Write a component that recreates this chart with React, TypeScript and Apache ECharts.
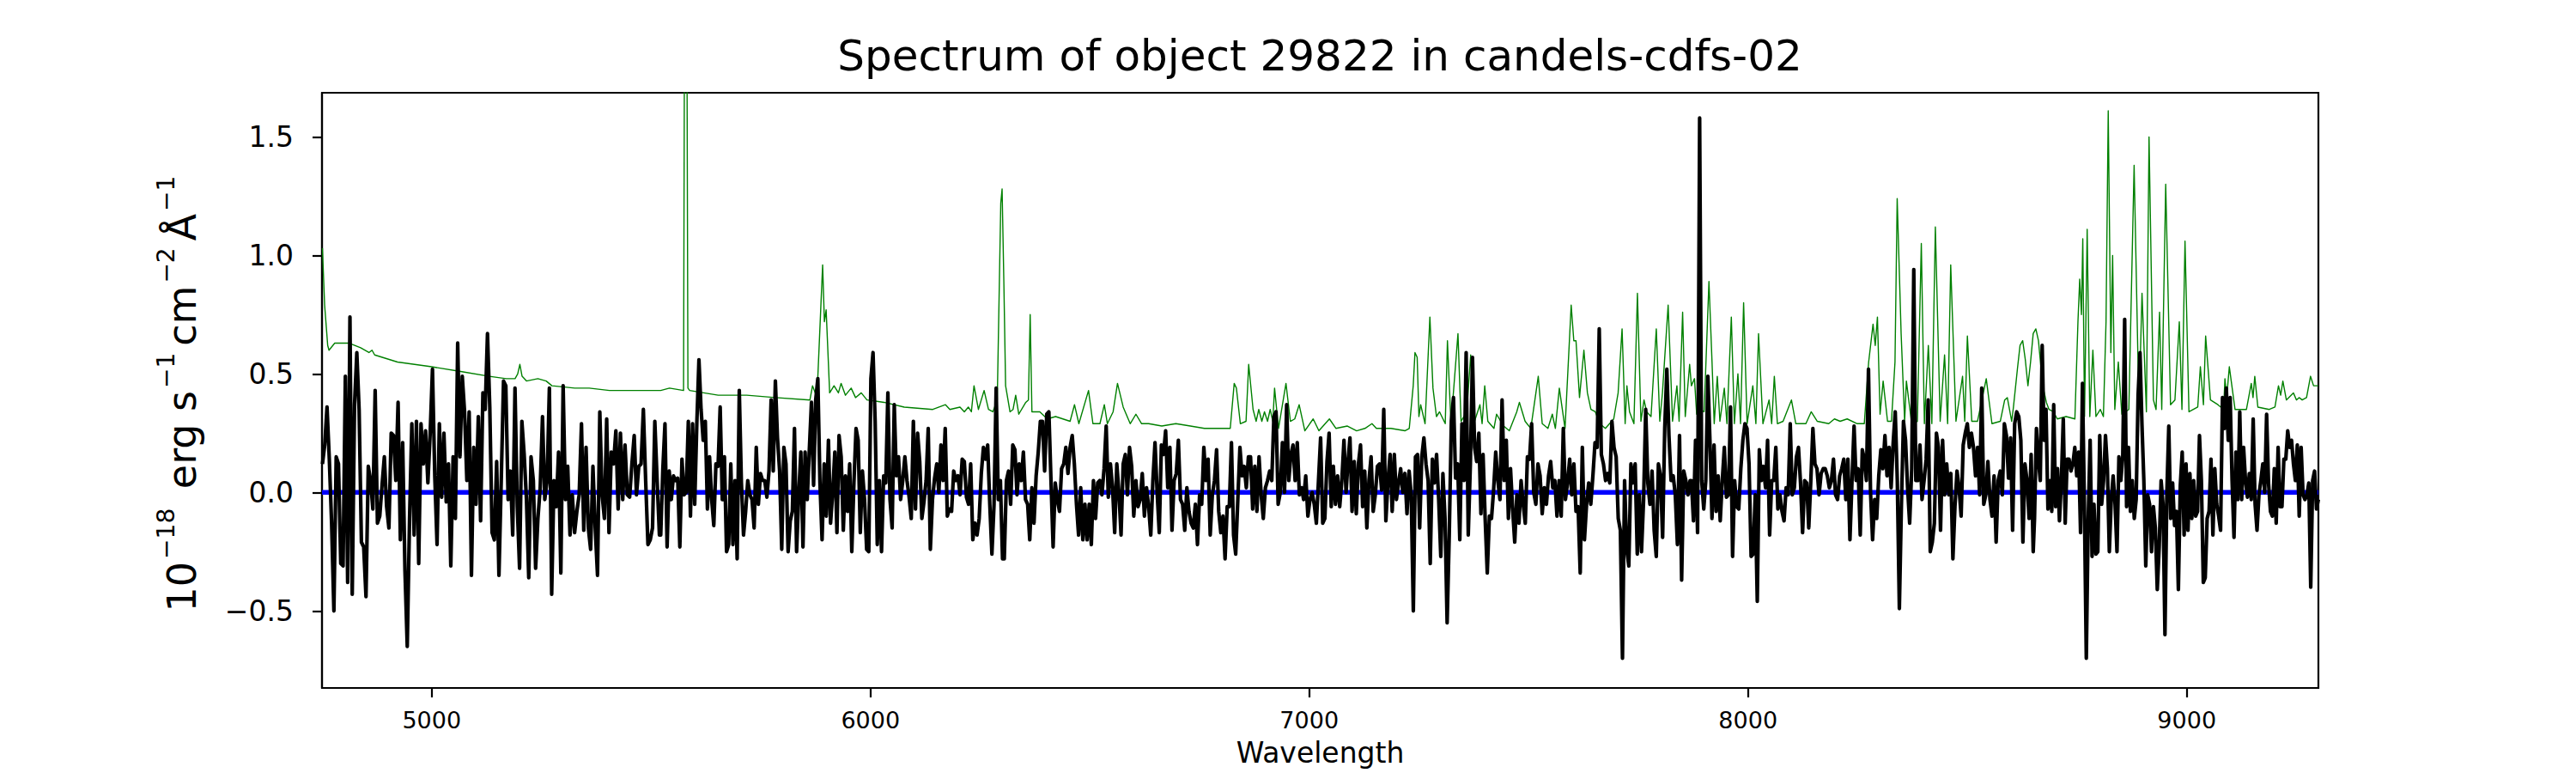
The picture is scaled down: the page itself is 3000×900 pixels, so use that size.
import React, { useEffect, useRef } from "react";
import * as echarts from "echarts";

// ---------- data ----------
const titleText = "Spectrum of object 29822 in candels-cdfs-02";
const xTicks = [5000, 6000, 7000, 8000, 9000];
const yTicks = [-0.5, 0, 0.5, 1.0, 1.5];
const xMin = 4750;
const xMax = 9300;
const yMin = -0.825;
const yMax = 1.686;

// observed flux, read in six wavelength pieces (evenly spaced pixels inside each)
const fluxPieceStart = [4751, 5522, 6305, 7088, 7871, 8653];
const fluxPieceEnd = [5519, 6301, 7084, 7868, 8650, 9300];

const fluxA = [.12, .20, .36, .14, -.13, -.50, .15, .12, -.30, -.31, .49, -.38, .74, -.43, .37, .59, .35, -.21, -.23, -.44, .11, .05, -.07, .43, -.13, -.10, .03, .15, -.06, -.15, .25, .24, .05, .38, -.20, .21, -.33, -.65, -.11, .29, -.18, .30, -.30, .29, .12, .26, .04, .25, .52, .07, -.22, .29, -.02, .25, -.04, .12, -.31, .15, -.11, .63, .15, .49, .34, .05, .34, -.35, .19, -.05, .32, -.12, .42, .35, .67, .36, -.17, -.20, .13, -.35, .05, .47, .45, -.03, .09, -.18, .44, -.06, -.32, .30, .16, -.03, -.36, .15, .05, -.32, -.11, .02, .32, -.03, .05, .44, -.43, .05, -.06, .17, -.34, .45, -.03, .11, -.18, -.01, -.17, -.08, -.01, .29, -.16, .19, -.15, -.24, .11, -.15, -.35, .34, -.01, -.11, .31, -.17, .17, .12, .26, -.07, .25, -.03, .20, -.01, -.02, .12, .24, -.01, .11, .12, .35, .05, -.22, -.20, -.15, .30, .05, -.18];

const fluxB = [-.18, .10, .29, -.23, .09, -.03, .07, .05, .06, -.23, .14, -.01, .00, .30, -.10, .29, -.05, .29, .56, .35, .22, .30, -.07, .15, -.03, -.14, .12, .11, .36, -.03, .15, -.25, -.22, .12, -.22, .05, -.28, .43, .04, -.18, -.08, .05, -.01, -.03, -.15, .19, -.05, .08, .05, .05, -.02, .09, .39, .09, .47, .23, .09, -.24, .19, .12, -.25, -.12, -.08, .27, -.25, -.01, .17, -.23, .17, -.03, .18, .38, .03, .39, .48, .04, -.20, .12, -.10, .22, -.13, .00, .17, -.17, .24, .15, -.16, .07, -.08, .12, -.25, .04, .27, .22, -.17, .09, -.03, -.24, -.25, .48, .59, .30, -.22, .05, -.25, .07, .04, .42, -.03, -.15, .37, .07, .15, -.03, .05, .15, .05, -.02, -.11, .30, -.07, .25, .13, -.11, -.04, .05, .27, -.24, -.03, .06, .12, .00, .20, .05, .27, -.10, -.07, -.08, .09, .05, .07, -.01, .14, .13, -.02, -.05, .12, -.20, -.13, -.18, -.11, .08, .19, .14, .20, -.05, -.26, -.05, .44, -.03, .05, -.28];

const fluxC = [-.28, .05, .09, -.05, .20, .18, -.01, .12, .05, .17, -.03, -.05, -.20, .02, -.13, .07, .17, .30, .30, .09, .33, .34, .05, -.23, .04, -.03, -.08, .10, .12, .19, .08, .19, .24, .12, -.05, -.18, .02, -.20, -.05, -.20, -.05, -.22, .05, -.11, .04, .05, -.01, .10, .28, -.02, .12, .02, -.17, .12, .00, -.18, .12, .16, -.01, .19, .11, -.10, .05, -.06, -.03, .08, -.10, .02, -.06, -.18, .05, .21, .00, -.17, .20, .16, .26, .02, .19, -.16, .05, .08, .22, -.03, -.05, -.16, .02, -.08, -.13, -.15, -.05, -.22, -.01, -.05, .19, .05, .14, -.18, -.01, .05, .18, -.08, -.17, -.10, -.28, -.06, -.06, .21, -.18, -.26, -.03, .19, .07, .11, .02, .15, .15, -.07, .11, -.08, .15, -.01, -.11, .02, .05, .09, .05, .32, .34, -.05, .00, .21, .00, .37, .05, .16, .20, .05, .21, -.01, .02, -.03, .07, -.10, -.03, .00, -.05, -.13, .05, .23, -.13, -.11, .13, .25, -.06, .11, -.05, .07, -.06, .05, .22, .00];

const fluxD = [.12, .23, -.08, .13, -.09, .12, .20, -.06, .09, -.15, .05, .15, -.08, -.01, .11, .12, .01, .35, -.12, .05, .16, -.08, .16, -.03, .04, .10, .00, .08, -.09, .09, -.01, -.50, .15, .16, -.15, .15, .23, .12, .05, -.30, .14, .04, .16, -.03, -.27, .08, -.11, -.55, -.18, .30, .40, .06, .12, -.20, .29, .05, .59, -.18, .12, .57, .19, .13, .25, -.09, .16, -.11, -.34, -.10, -.11, .01, .17, .05, -.03, .39, .05, .22, -.11, .10, -.07, -.21, -.01, -.13, .05, -.05, -.13, .15, .14, .29, .00, -.05, .12, .07, -.09, .02, -.05, .07, .13, .02, .05, -.10, .05, -.10, .27, -.03, .04, .14, -.01, .12, -.08, -.06, -.34, .19, -.20, -.05, .04, -.05, .07, .21, .19, .69, .16, .12, .05, .08, .04, .30, .19, .15, -.11, -.16, -.70, .05, -.24, -.31, .12, .04, .12, -.26, -.01, -.25, -.03, .35, .04, -.05, .09, -.16, -.27, .12, .07, -.19, .27, .52, .24, .05, .07, -.01, -.22, .24, -.37, .09, .05, -.01, .05];

const fluxE = [.05, -.12, .22, -.17, 1.58, .05, -.07, .05, .49, .22, -.11, .20, -.08, .07, -.12, .05, .19, -.02, -.01, .36, -.27, .05, -.06, -.07, .10, .22, .29, .27, .12, -.27, -.26, -.01, -.46, .18, .05, .11, .02, .22, -.18, .05, .05, .19, -.07, -.01, -.08, -.12, .02, -.01, .29, -.01, .02, .15, .19, .04, -.17, .05, .04, -.15, .05, .27, .12, .10, -.01, .08, .10, .10, .07, .02, .05, .14, -.01, -.03, .07, .10, .14, -.03, .14, -.20, .05, .28, .05, .10, -.18, .18, .14, .05, .52, .00, -.20, -.03, -.11, .07, .18, .10, .24, .07, .19, .02, .21, .34, .05, -.49, -.05, .30, .22, .02, -.13, .10, .94, .05, .05, .20, -.03, .05, .14, .39, -.25, -.21, -.13, .25, .19, -.16, .22, -.01, .12, -.01, .08, -.28, -.06, .09, .02, -.10, .20, .25, .29, .19, .25, .19, .07, .19, -.01, .44, -.05, -.01, .13, -.03, -.10, .07, -.21, .05, .09, -.01, .29, .24, .06, .23, -.16, .29, .34, .32, .22, -.21, .12, .05, -.11, .16, -.25];

const fluxF = [-.11, .27, .14, .05, .62, .22, .35, -.07, .05, -.08, .37, -.06, .10, -.12, .05, .31, -.13, .14, .14, .09, .12, .19, .07, .17, -.17, .46, -.05, -.70, -.11, .22, -.27, -.05, -.26, -.25, .24, -.05, .05, .24, .10, -.25, -.03, .07, -.05, -.25, .15, .05, .15, .73, -.06, .19, -.08, .05, -.11, -.03, .41, .59, .29, .05, -.31, -.01, -.05, -.25, -.06, -.15, -.41, -.23, .05, -.05, -.60, .00, .28, -.11, .04, -.14, -.08, -.41, .03, .17, -.18, .12, -.16, .08, -.11, .05, -.10, -.08, .24, .05, -.38, -.36, -.11, -.08, .14, -.18, .10, -.05, -.10, -.16, .40, .27, .44, .22, .40, .05, -.19, .17, -.03, .34, -.03, .19, .05, -.02, .08, -.03, .31, -.05, -.16, -.01, .05, .12, .00, .33, .04, -.08, -.10, .10, -.13, .19, -.06, -.06, .14, .14, .26, .19, .22, .12, .05, .20, -.10, .19, -.01, -.03, -.01, .04, -.40, .05, .09, -.07, -.03];

// sky / noise spectrum (green)
const skyWave = [4751, 4756, 4763, 4766, 4779, 4811, 4838, 4857, 4864, 4870, 4922, 4961, 5000, 5066, 5131, 5170, 5190, 5196, 5201, 5206, 5216, 5242, 5261, 5274, 5326, 5359, 5405, 5457, 5522, 5542, 5574, 5577, 5581, 5584, 5588, 5620, 5653, 5718, 5783, 5862, 5868, 5878, 5891, 5895, 5899, 5907, 5917, 5927, 5933, 5943, 5956, 5966, 5979, 5992, 6031, 6077, 6142, 6171, 6181, 6204, 6214, 6223, 6230, 6236, 6246, 6259, 6269, 6279, 6289, 6297, 6300, 6304, 6308, 6318, 6325, 6331, 6338, 6354, 6360, 6364, 6368, 6386, 6403, 6422, 6455, 6465, 6475, 6497, 6507, 6523, 6533, 6540, 6553, 6563, 6576, 6592, 6605, 6618, 6634, 6664, 6696, 6729, 6761, 6820, 6829, 6834, 6843, 6856, 6862, 6872, 6879, 6885, 6892, 6898, 6905, 6911, 6917, 6921, 6930, 6947, 6957, 6967, 6977, 6990, 7009, 7022, 7046, 7061, 7087, 7108, 7127, 7143, 7153, 7186, 7218, 7228, 7237, 7241, 7246, 7250, 7254, 7264, 7275, 7282, 7290, 7297, 7310, 7315, 7323, 7329, 7339, 7346, 7359, 7368, 7375, 7389, 7394, 7400, 7407, 7421, 7427, 7443, 7456, 7473, 7479, 7492, 7505, 7522, 7531, 7544, 7554, 7561, 7570, 7583, 7597, 7603, 7608, 7616, 7626, 7634, 7642, 7652, 7662, 7675, 7694, 7704, 7713, 7720, 7724, 7730, 7740, 7748, 7756, 7763, 7769, 7779, 7791, 7799, 7805, 7818, 7828, 7838, 7843, 7851, 7857, 7867, 7871, 7878, 7883, 7891, 7900, 7911, 7918, 7923, 7930, 7936, 7946, 7952, 7962, 7969, 7977, 7983, 7990, 7998, 8011, 8018, 8024, 8034, 8048, 8054, 8060, 8067, 8080, 8099, 8109, 8132, 8144, 8158, 8184, 8197, 8210, 8226, 8249, 8265, 8275, 8285, 8290, 8295, 8301, 8308, 8318, 8327, 8335, 8340, 8349, 8357, 8361, 8373, 8386, 8395, 8402, 8411, 8419, 8427, 8438, 8448, 8455, 8462, 8474, 8489, 8494, 8500, 8510, 8523, 8543, 8556, 8575, 8585, 8591, 8601, 8605, 8614, 8620, 8626, 8632, 8638, 8644, 8650, 8656, 8662, 8668, 8673, 8680, 8686, 8696, 8705, 8725, 8745, 8752, 8756, 8760, 8763, 8767, 8773, 8779, 8786, 8793, 8803, 8810, 8816, 8821, 8827, 8831, 8836, 8844, 8852, 8868, 8880, 8891, 8898, 8908, 8914, 8924, 8930, 8938, 8943, 8952, 8963, 8973, 8983, 8989, 8996, 9005, 9025, 9031, 9038, 9043, 9054, 9071, 9084, 9087, 9091, 9097, 9110, 9136, 9147, 9151, 9155, 9162, 9188, 9201, 9209, 9214, 9219, 9227, 9243, 9250, 9256, 9263, 9273, 9282, 9289, 9300];

const skyFlux = [1.03, .79, .62, .60, .63, .63, .61, .59, .60, .58, .55, .54, .53, .51, .49, .48, .48, .50, .54, .49, .47, .48, .47, .45, .44, .44, .43, .43, .43, .44, .43, 2.6, 2.4, .44, .43, .42, .41, .41, .40, .39, .45, .40, .96, .72, .77, .42, .45, .42, .46, .41, .44, .40, .42, .39, .38, .36, .35, .37, .35, .36, .34, .36, .34, .45, .35, .43, .35, .34, .39, 1.22, 1.28, .89, .45, .34, .35, .41, .33, .38, .39, .75, .34, .34, .31, .32, .30, .37, .29, .43, .29, .29, .37, .29, .34, .46, .36, .29, .33, .29, .29, .28, .29, .28, .27, .27, .46, .44, .29, .30, .54, .35, .30, .35, .30, .34, .30, .35, .30, .44, .27, .46, .30, .31, .37, .26, .31, .26, .31, .27, .28, .26, .27, .29, .27, .27, .26, .27, .45, .59, .57, .32, .37, .29, .74, .44, .32, .34, .29, .64, .29, .43, .67, .30, .34, .58, .29, .37, .29, .45, .30, .27, .33, .28, .26, .34, .38, .30, .27, .49, .29, .27, .33, .27, .44, .27, .79, .64, .64, .40, .60, .42, .35, .34, .29, .27, .31, .42, .69, .29, .45, .34, .29, .84, .30, .39, .34, .32, .69, .30, .42, .79, .30, .45, .30, .76, .32, .54, .45, .48, .33, .35, .34, .89, .55, .29, .49, .30, .44, .29, .74, .29, .50, .29, .80, .29, .45, .29, .67, .29, .39, .29, .49, .29, .30, .39, .29, .29, .34, .30, .29, .31, .30, .31, .29, .29, .55, .71, .62, .74, .33, .47, .30, .30, .55, 1.24, .67, .30, .47, .29, .30, 1.05, .29, .62, .29, 1.12, .30, .58, .29, .96, .30, .49, .30, .66, .30, .30, .48, .29, .30, .39, .40, .30, .36, .52, .62, .64, .56, .45, .55, .67, .69, .64, .52, .44, .38, .35, .34, .31, .32, .31, .72, .90, .75, 1.07, .32, 1.11, .32, .60, .32, .35, .32, .72, 1.61, .59, 1.00, .35, .55, .33, .35, 1.38, .35, .84, .34, 1.50, .39, .35, .76, .35, 1.30, .37, .39, .72, .35, 1.06, .34, .36, .53, .37, .66, .39, .37, .35, .48, .40, .53, .35, .35, .46, .40, .49, .36, .35, .36, .45, .41, .47, .39, .42, .39, .40, .39, .40, .49, .45, .45];

const zeroLevel = [0, 0];

// ---------- helpers ----------
const FONT = "DejaVu Sans";
const fluxPieces = [fluxA, fluxB, fluxC, fluxD, fluxE, fluxF];

function buildFlux(): number[][] {
  const out: number[][] = [];
  fluxPieces.forEach((vals, k) => {
    const s = fluxPieceStart[k];
    const e = fluxPieceEnd[k];
    const step = (e - s) / (vals.length - 1);
    vals.forEach((v, i) => out.push([s + i * step, v]));
  });
  return out;
}

const fmtY = (v: number) => v.toFixed(1).replace("-", "\u2212");

export default function App() {
  const ref = useRef<HTMLDivElement>(null);

  useEffect(() => {
    if (!ref.current) return;
    const chart = echarts.init(ref.current, undefined, { renderer: "svg" });
    const flux = buildFlux();
    const sky = skyWave.map((w, i) => [w, skyFlux[i]]);
    const zero = [[xMin, zeroLevel[0]], [xMax, zeroLevel[1]]];

    const axisCommon = {
      axisLine: { show: true, onZero: false, lineStyle: { color: "#000", width: 2.2 } },
      axisTick: { show: true, inside: false, length: 11, lineStyle: { color: "#000", width: 2.2 } },
      splitLine: { show: false },
    };

    chart.setOption({
      animation: false,
      backgroundColor: "#ffffff",
      title: {
        text: titleText,
        left: 1537,
        top: 40,
        textAlign: "center",
        padding: 0,
        textStyle: { fontFamily: FONT, fontSize: 50, fontWeight: "normal", color: "#000" },
      },
      grid: {
        left: 375,
        right: 300,
        top: 108,
        bottom: 99,
        show: true,
        borderColor: "#000",
        borderWidth: 2.2,
        backgroundColor: "transparent",
        containLabel: false,
      },
      xAxis: {
        type: "value",
        min: xMin,
        max: xMax,
        ...axisCommon,
        axisTick: { ...axisCommon.axisTick, customValues: xTicks },
        axisLabel: {
          customValues: xTicks,
          margin: 24,
          fontFamily: FONT,
          fontSize: 27,
          color: "#000",
          formatter: (v: number) => String(v),
        },
        name: "Wavelength",
        nameLocation: "middle",
        nameGap: 59,
        nameTextStyle: { fontFamily: FONT, fontSize: 33, color: "#000" },
      },
      yAxis: {
        type: "value",
        min: yMin,
        max: yMax,
        ...axisCommon,
        axisTick: { ...axisCommon.axisTick, customValues: yTicks },
        axisLabel: {
          customValues: yTicks,
          margin: 33,
          fontFamily: FONT,
          fontSize: 33,
          color: "#000",
          formatter: fmtY,
        },
        name: "{m|10}{s|\u221218}{m| erg s}{s|\u22121}{m|cm}{s|\u22122}{m|\u00C5}{s|\u22121}",
        nameLocation: "middle",
        nameRotate: 90,
        nameGap: 140,
        nameTextStyle: {
          fontFamily: FONT,
          fontSize: 46,
          color: "#000",
          rich: {
            m: { fontFamily: FONT, fontSize: 46, lineHeight: 56, verticalAlign: "bottom", color: "#000" },
            s: { fontFamily: FONT, fontSize: 28, lineHeight: 26, verticalAlign: "top", color: "#000", padding: [0, 8, 0, 3] },
          },
        },
      },
      series: [
        {
          name: "sky",
          type: "line",
          data: sky,
          showSymbol: false,
          symbol: "none",
          clip: true,
          lineStyle: { color: "#008000", width: 1.4, join: "round" },
          z: 2,
        },
        {
          name: "zero",
          type: "line",
          data: zero,
          showSymbol: false,
          symbol: "none",
          clip: true,
          lineStyle: { color: "#0000ff", width: 5.5 },
          z: 3,
        },
        {
          name: "flux",
          type: "line",
          data: flux,
          showSymbol: false,
          symbol: "none",
          clip: true,
          lineStyle: { color: "#000000", width: 4.2, join: "round" },
          z: 4,
        },
      ],
    });

    return () => chart.dispose();
  }, []);

  return (
    <div
      ref={ref}
      style={{ position: "fixed", left: 0, top: 0, width: 3000, height: 900, background: "#fff" }}
    />
  );
}
